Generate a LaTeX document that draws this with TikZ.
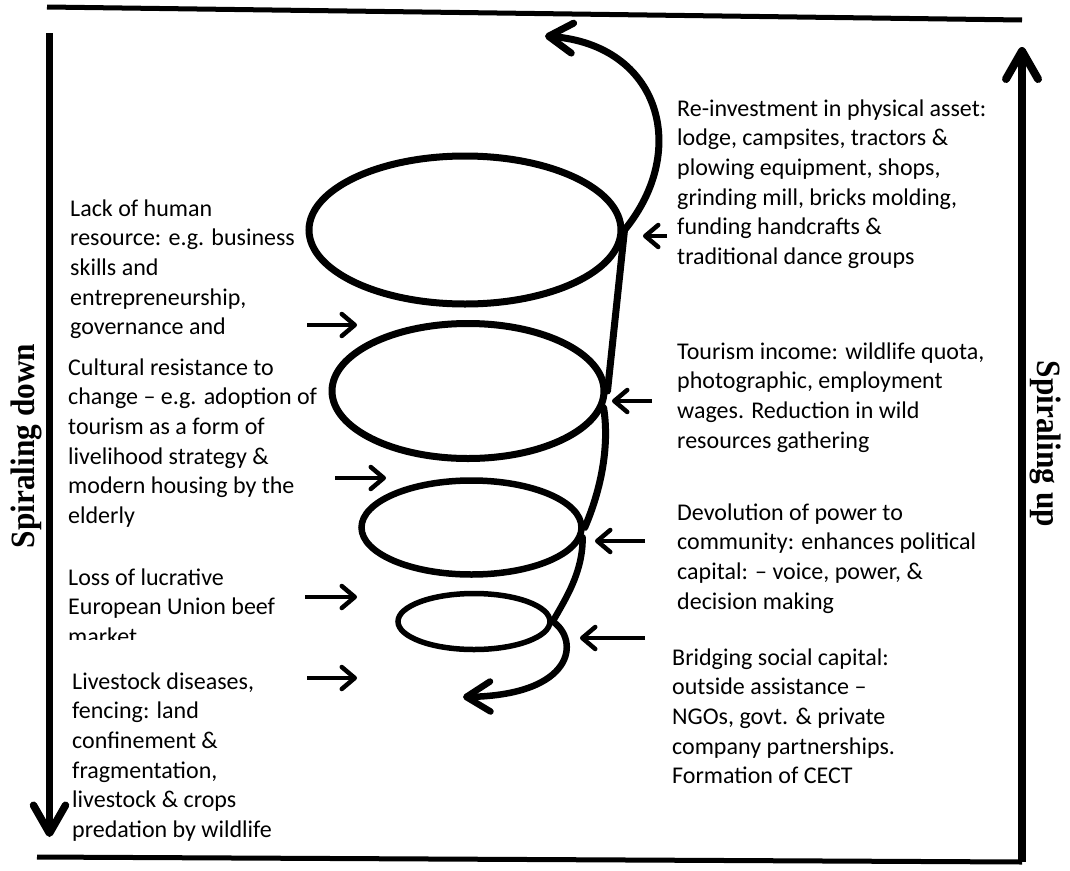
\documentclass[tikz,border=0pt]{standalone}
\usepackage{fontspec}
\setmainfont{Carlito}
\newfontfamily\sidefont[FakeStretch=0.92]{Liberation Serif}
\usetikzlibrary{arrows.meta,shapes.geometric}
\newcommand\firststrut{\rule{0pt}{20pt}}
\begin{document}
\begin{tikzpicture}[x=1pt,y=-1pt,
  txt/.style={anchor=north west, align=left, inner sep=0pt, font=\fontsize{24}{29.6}\selectfont},
  oval/.style={ellipse, draw, inner sep=0pt},
  spiral/.style={line width=7pt, line cap=round},
  bighead/.style={-{Straight Barb[length=28pt,width=32pt,round]}},
  spiralhead/.style={-{Straight Barb[length=24pt,width=30pt,round]}},
  smallarrow/.style={line width=4.5pt, -{Straight Barb[length=13pt,width=22pt,round]}},
  side/.style={font=\sidefont\bfseries\fontsize{34}{34}\selectfont, inner sep=0pt}
]
\useasboundingbox (0,0) rectangle (1070,870);
\fill[white] (0,0) rectangle (1070,870);

% frame lines
\draw[line width=5pt] (47,7) -- (1022,20);
\draw[line width=5pt] (37,857) -- (1022,862);
\draw[line width=7.5pt, bighead] (49.5,33) -- (49.5,837);
\draw[line width=8pt, bighead] (1022,862) -- (1022,47);

% side labels
\node[side, rotate=90] (down) at (26,446) {Spiraling down};
\node[side, rotate=-90] (up) at (1046,444) {Spiraling up};

% spiral ellipses
\node[oval, line width=7pt, minimum width=312pt, minimum height=148pt] (e1) at (465,230) {};
\node[oval, line width=7pt, minimum width=272pt, minimum height=135pt] (e2) at (468,391) {};
\node[oval, line width=6.5pt, minimum width=220pt, minimum height=94pt] (e3) at (471.5,527.5) {};
\node[oval, line width=5.5pt, minimum width=152pt, minimum height=56pt] (e4) at (474,621.5) {};

\coordinate (tipA) at (545,36);
\coordinate (tipE) at (463,697);

\draw[spiral, spiralhead] (e1.east) .. controls (690,150) and (660,45) .. (tipA);
\draw[spiral] (e1.east) -- (e2.east);
\draw[spiral] (e2.-7) .. controls (610,448) and (600,492) .. (e3.east);
\draw[spiral, line width=6.5pt] (e3.-5) .. controls (583,572) and (566,598) .. (e4.east);
\draw[spiral, line width=6.5pt, spiralhead] (e4.east) .. controls (580,640) and (575,695) .. (tipE);

% small arrows, left side
\draw[smallarrow] (307,325) -- (357,325);
\draw[smallarrow] (335,478) -- (386,478);
\draw[smallarrow] (305,597) -- (357,597);
\draw[smallarrow] (307,678) -- (357,678);
% small arrows, right side
\draw[smallarrow] (667,236) -- (643,236);
\draw[smallarrow] (652,401) -- (612,401);
\draw[smallarrow] (645,541) -- (595,541);
\draw[smallarrow] (645,638) -- (580,638);

% left texts
\node[txt] (l1) at (70,196) {\firststrut Lack of human\\resource: e.g. business\\skills and\\entrepreneurship,\\governance and};
\node[txt] (l2) at (68,355) {\firststrut Cultural resistance to\\change – e.g. adoption of\\tourism as a form of\\livelihood strategy \&\\modern housing by the\\elderly};
\begin{scope}
\clip (0,545) rectangle (400,639);
\node[txt] (l3) at (68,565) {\firststrut Loss of lucrative\\European Union beef\\market};
\end{scope}
\node[txt] (l4) at (72,669) {\firststrut Livestock diseases,\\fencing: land\\confinement \&\\fragmentation,\\livestock \& crops\\predation by wildlife};

% right texts
\node[txt] (r1) at (677,96) {\firststrut Re-investment in physical asset:\\lodge, campsites, tractors \&\\plowing equipment, shops,\\grinding mill, bricks molding,\\funding handcrafts \&\\traditional dance groups};
\node[txt] (r2) at (677,339) {\firststrut Tourism income: wildlife quota,\\photographic, employment\\wages. Reduction in wild\\resources gathering};
\node[txt] (r3) at (677,500) {\firststrut Devolution of power to\\community: enhances political\\capital: – voice, power, \&\\decision making};
\node[txt] (r4) at (672,645) {\firststrut Bridging social capital:\\outside assistance –\\NGOs, govt. \& private\\company partnerships.\\Formation of CECT};
\end{tikzpicture}
\end{document}
